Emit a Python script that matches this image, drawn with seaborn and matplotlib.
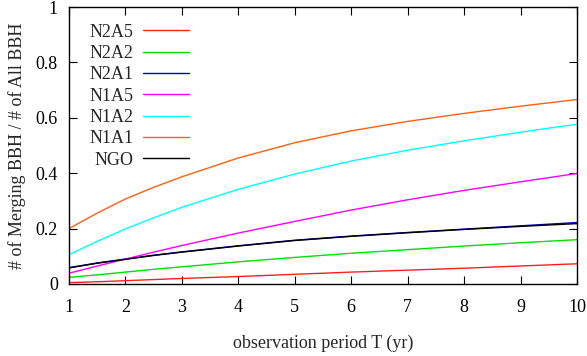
import numpy as np
import pandas as pd
import matplotlib
matplotlib.use("Agg")
import matplotlib.pyplot as plt
import seaborn as sns

# observation period (yr)
T = [1, 1.5, 2, 2.5, 3, 4, 5, 6, 7, 8, 9, 10]

# fraction of merging BBH
n2a5 = [0.005, 0.008, 0.012, 0.016, 0.020, 0.027, 0.035, 0.043, 0.050, 0.057, 0.065, 0.073]
n2a2 = [0.024, 0.033, 0.043, 0.053, 0.062, 0.080, 0.096, 0.111, 0.124, 0.137, 0.149, 0.160]
n2a1 = [0.059, 0.076, 0.090, 0.104, 0.116, 0.138, 0.158, 0.173, 0.186, 0.198, 0.210, 0.222]
n1a5 = [0.039, 0.065, 0.090, 0.115, 0.139, 0.184, 0.226, 0.267, 0.304, 0.338, 0.369, 0.399]
n1a2 = [0.106, 0.154, 0.199, 0.239, 0.277, 0.342, 0.397, 0.444, 0.483, 0.517, 0.548, 0.577]
n1a1 = [0.200, 0.256, 0.307, 0.349, 0.387, 0.455, 0.510, 0.553, 0.587, 0.616, 0.642, 0.666]
ngo = [0.058, 0.075, 0.089, 0.103, 0.115, 0.137, 0.157, 0.172, 0.185, 0.197, 0.208, 0.218]

labels = ["N2A5", "N2A2", "N2A1", "N1A5", "N1A2", "N1A1", "NGO"]
colors = ["#ff2020", "#00e000", "#0000c0", "#ff00ff", "#00ffff", "#ff6010", "#000000"]
series = [n2a5, n2a2, n2a1, n1a5, n1a2, n1a1, ngo]

df = pd.concat(
    [pd.DataFrame({"T": T, "frac": vals, "model": lab}) for lab, vals in zip(labels, series)],
    ignore_index=True,
)

sns.set_style("ticks")
plt.rcParams["font.family"] = ["Liberation Serif", "DejaVu Serif"]

fig = plt.figure(figsize=(5.87, 3.56), dpi=100)
ax = fig.add_axes([69 / 587, 1 - 284 / 356, 508 / 587, 277 / 356])

sns.lineplot(
    data=df, x="T", y="frac", hue="model", hue_order=labels,
    palette=dict(zip(labels, colors)), linewidth=1.0, ax=ax,
)

ax.set_xlim(1, 10)
ax.set_ylim(0, 1)
ax.set_xticks(range(1, 11))
ax.set_yticks([0, 0.2, 0.4, 0.6, 0.8, 1])
ax.set_yticklabels(["0", "0.2", "0.4", "0.6", "0.8", "1"])
ax.tick_params(direction="in", top=True, right=True, length=6, width=0.8,
               labelsize=13, colors="black")
ax.tick_params(axis="x", pad=11)
ax.tick_params(axis="y", pad=8)
for s in ax.spines.values():
    s.set_visible(True)
    s.set_linewidth(1.0)
    s.set_color("black")

ax.set_xlabel("observation period T (yr)", fontsize=13, labelpad=13)
ax.set_ylabel("# of Merging BBH / # of All BBH", fontsize=13, labelpad=7)

handles, labs = ax.get_legend_handles_labels()
leg = ax.legend(handles, labs, loc="upper right", bbox_to_anchor=(0.236, 0.94),
                frameon=False, markerfirst=False, fontsize=13,
                handlelength=2.55, handletextpad=0.5, labelspacing=0.24,
                borderaxespad=0, borderpad=0)
for t in leg.get_texts():
    t.set_ha("right")
leg._legend_box.align = "right"

fig.savefig("out.png", dpi=100)
